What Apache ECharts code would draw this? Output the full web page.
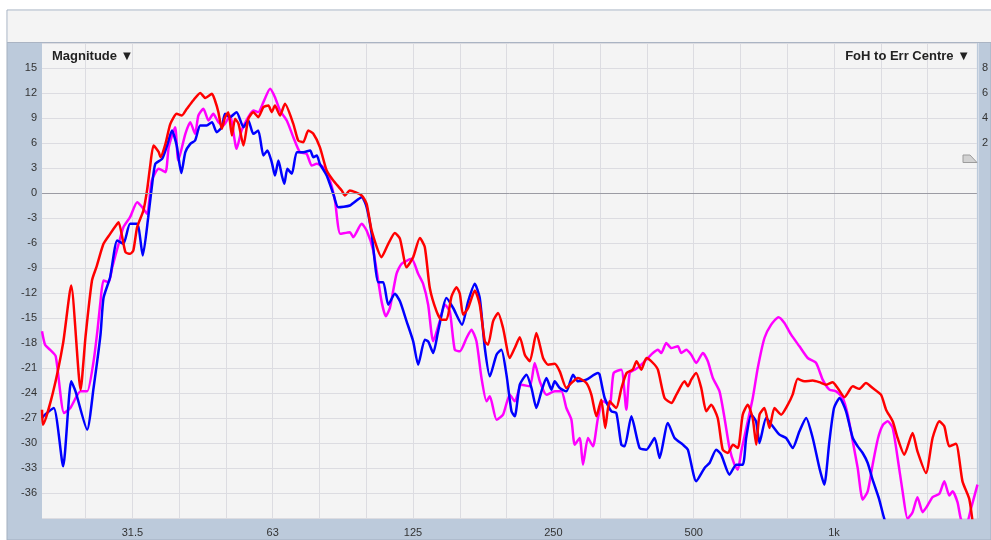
<!DOCTYPE html>
<html>
<head>
<meta charset="utf-8">
<script src="https://cdn.jsdelivr.net/npm/echarts@6/dist/echarts.min.js"></script>
<style>
  html, body { margin: 0; padding: 0; background: #fff; }
  #main { width: 991px; height: 540px; }
</style>
</head>
<body>
<div id="main"></div>
<script>
// frequency (Hz) and magnitude (dB), one pair of arrays per trace
var freqRed = [
  20.0, 20.1, 21.1, 22.2, 23.1, 24.2, 24.8, 25.6, 26.2, 27.1,
  28.0, 29.0, 29.2, 30.2, 30.9, 31.4, 32.0, 33.0, 33.6, 34.1,
  34.7, 35.6, 35.9, 36.8, 37.7, 38.9, 39.9, 40.9, 42.2, 43.7,
  44.8, 46.3, 47.0, 47.8, 48.6, 49.4, 50.2, 51.1, 51.9, 52.8,
  54.1, 55.4, 56.8, 58.2, 59.7, 61.2, 62.2, 63.2, 64.8, 66.4,
  69.2, 70.9, 72.7, 74.5, 76.4, 78.9, 81.6, 84.3, 87.9, 89.3,
  91.5, 97.0, 99.4, 101.9, 107.0, 110.6, 114.3, 117.2, 121.1, 125.1,
  129.3, 132.5, 135.8, 140.4, 143.9, 147.5, 151.2, 155.0, 157.5, 160.1,
  164.1, 169.6, 173.8, 178.2, 181.1, 185.6, 190.3, 195.0, 201.6, 206.6,
  211.8, 217.1, 222.5, 229.9, 237.6, 243.5, 251.7, 258.0, 266.6, 273.3,
  282.3, 294.3, 301.6, 309.2, 316.8, 323, 330, 341, 350, 359,
  370, 377, 386, 396, 409, 419, 433, 448, 459, 478,
  486, 494, 506, 519, 532, 545, 563, 577, 592, 607,
  622, 637, 653, 669, 681, 692, 709, 727, 745, 770,
  796, 815, 836, 864, 900, 930, 962, 993, 1018, 1053,
  1097, 1133, 1171, 1210, 1261, 1293, 1336, 1369, 1415, 1474,
  1510, 1575, 1627, 1682, 1724, 1767, 1826, 1886, 1950, 1982, 2008
];
var magRed = [
  -26.0, -27.8, -24.0, -18.0, -11.1, -23.6, -17.2, -10.5, -8.8, -6.1,
  -4.9, -3.7, -3.5, -7.1, -7.3, -6.9, -4.1, -2.1, 0.3, 3.1,
  5.7, 4.9, 4.3, 5.9, 8.3, 9.5, 9.3, 10.1, 11.1, 12.0,
  11.4, 11.9, 11.1, 9.7, 7.7, 9.1, 9.7, 6.9, 8.9, 8.3,
  5.7, 8.9, 9.7, 9.1, 10.3, 10.5, 9.7, 10.5, 9.3, 10.7,
  8.3, 6.3, 6.1, 7.5, 7.1, 5.5, 2.7, 1.5, 0.3, -0.3,
  0.3, -0.3, -1.3, -4.5, -7.7, -6.1, -4.8, -5.5, -8.9, -7.7,
  -5.4, -6.5, -11.4, -14.2, -15.2, -15.2, -12.4, -11.3, -12.1, -14.6,
  -13.8, -11.7, -13.4, -17.8, -18.2, -15.4, -14.4, -16.2, -19.8, -18.6,
  -17.3, -19.4, -20.2, -16.8, -19.8, -20.6, -20.5, -21.4, -23.4, -22.8,
  -22.2, -22.8, -24.2, -26.8, -24.8, -28.2, -25.0, -25.8, -23.4, -21.6,
  -21.2, -20.2, -21.2, -19.8, -20.4, -21.2, -24.6, -25.2, -24.2, -22.6,
  -23.2, -22.4, -21.6, -23.4, -26.2, -25.4, -27.0, -30.8, -31.2, -30.2,
  -30.6, -26.6, -25.4, -27.0, -30.2, -26.6, -25.8, -28.2, -25.8, -26.6,
  -25.4, -24.2, -22.3, -22.6, -22.5, -22.7, -23.0, -22.7, -23.4, -24.5,
  -23.2, -23.5, -22.8, -23.4, -24.2, -26.0, -27.4, -29.4, -31.4, -28.8,
  -31.0, -33.6, -29.4, -27.4, -28.0, -30.4, -30.1, -34.6, -36.7, -39.4, -42
];

var freqBlue = [
  20.0, 20.3, 21.2, 22.2, 23.1, 23.6, 25.0, 25.8, 26.7, 27.1,
  28.0, 29.0, 29.9, 30.9, 32.0, 32.9, 33.8, 34.4, 35.0, 36.2,
  37.1, 38.0, 38.9, 39.8, 40.6, 41.6, 42.6, 43.7, 45.1, 46.3,
  47.4, 48.6, 49.4, 50.6, 52.3, 54.1, 55.4, 56.8, 58.2, 59.7,
  60.9, 62.2, 63.2, 64.3, 65.4, 66.2, 67.2, 68.7, 70.4, 72.7,
  75.2, 76.4, 77.7, 78.9, 81.6, 84.3, 86.4, 91.5, 97.0, 99.4,
  101.9, 105.3, 107.9, 110.6, 114.3, 117.2, 121.1, 125.1, 128.2, 132.5,
  134.7, 138.1, 141.5, 147.5, 152.4, 159.2, 164.1, 169.6, 173.8, 178.2,
  182.7, 188.8, 193.4, 198.3, 203.3, 206.6, 211.8, 218.9, 224.4, 229.9,
  235.7, 241.6, 247.6, 251.7, 258.0, 266.6, 275.5, 282.3, 294.3, 311.6,
  314.2, 322.1, 332.9, 341.2, 349.7, 355.5, 367.5, 382.8, 395.6, 412.2,
  422.5, 440.1, 454.9, 474.0, 485.8, 506.3, 527.6, 540.7, 558.8, 572.7,
  596.7, 616.7, 637.2, 647.9, 664.1, 680.5, 691.9, 715.2, 738.8, 763.7,
  789.2, 815.4, 842.9, 871.3, 900.1, 930.3, 953.0, 977.3, 1000, 1028,
  1061, 1097, 1124, 1152, 1181, 1210, 1249, 1282, 1325
];
var magBlue = [
  -27.0, -26.6, -25.8, -32.8, -22.6, -23.8, -28.4, -23.4, -17.0, -12.6,
  -10.1, -5.7, -6.1, -3.7, -3.7, -7.5, -2.9, 0.7, 3.5, 4.1,
  5.7, 7.5, 5.7, 2.4, 4.9, 5.9, 6.3, 8.1, 8.1, 8.5,
  7.3, 7.9, 9.5, 9.1, 9.7, 7.9, 8.7, 7.1, 7.5, 4.5,
  5.1, 3.7, 2.1, 3.9, 2.1, 1.1, 2.9, 2.3, 4.9, 4.9,
  5.1, 4.3, 4.5, 3.5, 2.1, -0.1, -1.7, -1.5, -0.5, -1.7,
  -4.9, -10.7, -10.7, -13.4, -12.1, -13.0, -15.4, -17.8, -20.6, -17.6,
  -17.8, -19.2, -16.6, -12.6, -13.8, -15.8, -13.0, -10.9, -12.6, -18.6,
  -22.0, -19.4, -18.8, -21.8, -26.2, -26.8, -23.0, -21.8, -23.4, -25.8,
  -23.8, -22.2, -23.6, -22.6, -23.4, -23.8, -21.8, -22.6, -22.4, -21.6,
  -21.8, -24.6, -26.2, -26.4, -30.2, -30.4, -26.8, -30.6, -30.8, -29.4,
  -31.8, -27.6, -29.4, -30.2, -30.8, -34.6, -33.0, -32.4, -30.8, -31.4,
  -33.8, -32.6, -32.6, -29.4, -26.6, -27.4, -30.0, -27.0, -28.0, -29.0,
  -29.4, -30.6, -28.6, -27.0, -29.4, -33.0, -35.0, -29.8, -25.8, -24.6,
  -26.2, -29.4, -30.4, -31.2, -32.4, -34.4, -36.7, -39.1, -41
];

var freqMagenta = [
  20.0, 20.3, 20.8, 21.4, 22.3, 23.0, 24.2, 25.0, 25.8, 26.3,
  26.7, 27.1, 27.8, 28.3, 29.2, 29.9, 30.9, 32.0, 32.8, 33.6,
  34.4, 35.6, 36.8, 37.4, 38.6, 39.2, 40.6, 41.6, 42.6, 43.3,
  44.4, 45.5, 46.6, 47.8, 49.0, 50.6, 52.3, 53.6, 55.4, 56.8,
  58.2, 59.7, 61.7, 63.2, 64.8, 67.0, 69.2, 71.5, 73.9, 75.8,
  77.7, 80.2, 82.9, 85.0, 87.3, 91.5, 93.0, 97.0, 99.4, 102.7,
  107.0, 109.3, 111.5, 115.2, 118.1, 124.1, 128.2, 131.4, 134.7, 138.1,
  142.6, 146.3, 149.9, 153.6, 157.5, 162.8, 166.8, 171.0, 175.3, 179.7,
  182.7, 188.8, 195.0, 201.6, 206.6, 213.5, 222.5, 228.0, 233.8, 241.6,
  251.7, 260.1, 266.6, 273.3, 277.8, 284.7, 289.4, 296.6, 304.0, 311.6,
  319.4, 330.1, 336.7, 349.7, 358.5, 364.4, 373.6, 382.8, 395.6, 408.7,
  418.9, 426.1, 436.7, 447.6, 462.4, 470.2, 482.0, 494.0, 506.3, 523.1,
  536.2, 549.6, 568.0, 582.2, 596.7, 611.6, 621.7, 632.5, 653.1, 669.4,
  686.1, 709.2, 733.1, 759.9, 782.7, 809.0, 842.9, 878.1, 915.3, 945.5,
  977.3, 1010, 1044, 1070, 1097, 1124, 1152, 1181, 1210, 1243,
  1274, 1303, 1336, 1369, 1403, 1438, 1474, 1510, 1549, 1587,
  1627, 1682, 1724, 1767, 1796, 1840, 1871, 1918, 1966, 2031
];
var magMagenta = [
  -16.6, -18.2, -18.8, -19.6, -26.4, -25.8, -23.8, -23.8, -20.2, -16.5,
  -13.0, -10.5, -10.7, -8.9, -6.1, -4.1, -2.9, -1.1, -1.7, -2.5,
  1.5, 2.9, 2.5, 5.5, 7.9, 3.9, 7.1, 8.5, 7.1, 9.3,
  10.1, 8.7, 9.5, 8.5, 8.1, 9.3, 5.3, 7.5, 9.1, 9.9,
  9.7, 10.9, 12.5, 11.5, 9.9, 8.7, 6.7, 4.9, 4.7, 3.3,
  3.5, 3.1, 1.5, -0.9, -4.9, -4.7, -5.3, -3.7, -4.5, -6.9,
  -13.0, -14.8, -13.8, -9.7, -8.5, -7.9, -9.7, -10.9, -13.4, -17.8,
  -15.4, -13.4, -14.2, -18.8, -19.0, -17.4, -16.4, -17.8, -22.2, -25.0,
  -24.4, -27.2, -26.6, -24.2, -25.0, -23.0, -23.2, -20.4, -22.6, -24.2,
  -23.8, -23.8, -25.8, -27.2, -30.2, -29.4, -32.6, -29.4, -30.4, -27.0,
  -25.0, -25.4, -21.6, -21.2, -26.0, -21.6, -21.2, -20.8, -20.0, -19.2,
  -18.8, -19.2, -18.0, -18.6, -18.4, -19.2, -18.8, -19.4, -20.4, -19.2,
  -20.2, -22.2, -23.8, -27.0, -30.6, -32.6, -33.2, -31.0, -27.4, -24.6,
  -21.0, -17.4, -15.8, -14.9, -15.6, -17.0, -18.4, -19.8, -20.4, -22.4,
  -23.6, -23.8, -24.6, -26.6, -29.8, -33.0, -36.8, -35.8, -32.6, -29.4,
  -27.8, -27.4, -28.2, -31.8, -35.8, -39.1, -38.3, -36.5, -38.3, -37.5,
  -36.5, -36.1, -34.6, -36.3, -35.8, -37.1, -39.1, -40.0, -37.9, -35.0
];

// axis labels
var xTickHz = [31.25, 62.5, 125, 250, 500, 1000];
var xTickLabels = ['31.5', '63', '125', '250', '500', '1k'];
var rightTickLabels = [2, 4, 6, 8];

function toPoints(freqs, mags) {
  return freqs.map(function (f, i) { return [Math.log2(f), mags[i]]; });
}

// third-octave grid lines around 1 kHz (log2 units)
var thirdLines = [];
for (var k = -16; k <= 2; k++) thirdLines.push(Math.log2(1000) + k / 3);
var labelPos = xTickHz.map(function (f) { return Math.log2(f); });

var chart = echarts.init(document.getElementById('main'));
var labelFont = '"Liberation Sans", Arial, sans-serif';

var option = {
  backgroundColor: '#ffffff',
  animation: false,
  grid: {
    left: 42, right: 13, top: 43, bottom: 22,
    show: true, backgroundColor: '#f4f4f4', borderWidth: 0
  },
  graphic: [
    { type: 'rect', z: -10, shape: { x: 7, y: 10, width: 984, height: 530 },
      style: { fill: '#bccadb', stroke: '#a3afbf', lineWidth: 1 } },
    { type: 'rect', z: -9, shape: { x: 7.5, y: 10.5, width: 984, height: 32 },
      style: { fill: '#f4f4f4' } },
    { type: 'line', z: -8, shape: { x1: 7, y1: 42.5, x2: 991, y2: 42.5 },
      style: { stroke: '#aab4c3', lineWidth: 1 } },
    { type: 'line', z: -8, shape: { x1: 978.5, y1: 43, x2: 978.5, y2: 518 },
      style: { stroke: '#d6dde7', lineWidth: 1 } },
    { type: 'text', z: 10, style: { x: 52, y: 56, text: 'Magnitude \u25BC',
      font: 'bold 13px ' + labelFont, fill: '#222', verticalAlign: 'middle' } },
    { type: 'text', z: 10, style: { x: 970, y: 56, text: 'FoH to Err Centre \u25BC',
      font: 'bold 13px ' + labelFont, fill: '#222', align: 'right', verticalAlign: 'middle' } },
    { type: 'polygon', z: 10, shape: { points: [[963, 155], [970, 155], [977, 162.5], [963, 162.5]] },
      style: { fill: '#d2d2d2', stroke: '#9c9c9c', lineWidth: 1 } }
  ],
  xAxis: {
    type: 'value',
    min: Math.log2(20),
    max: Math.log2(2025),
    axisLine: { show: false },
    axisTick: { show: false, customValues: thirdLines },
    splitLine: { show: true, lineStyle: { color: '#dcdce1', width: 1 } },
    axisLabel: {
      customValues: labelPos,
      color: '#333', fontSize: 11, fontFamily: labelFont, margin: 9,
      formatter: function (v) {
        for (var i = 0; i < labelPos.length; i++) {
          if (Math.abs(labelPos[i] - v) < 1e-6) return xTickLabels[i];
        }
        return '';
      }
    }
  },
  yAxis: [{
    type: 'value',
    min: -39, max: 18, interval: 3,
    axisLine: { show: false },
    axisTick: { show: false },
    splitLine: { show: true, lineStyle: { color: '#dcdce1', width: 1 } },
    axisLabel: {
      color: '#333', fontSize: 11, fontFamily: labelFont, margin: 5,
      formatter: function (v) { return (v <= -39 || v >= 18) ? '' : String(v); }
    }
  }, {
    type: 'value',
    position: 'right',
    min: -28, max: 10, interval: 2,
    axisLine: { show: false },
    axisTick: { show: false },
    splitLine: { show: false },
    axisLabel: {
      color: '#333', fontSize: 11, fontFamily: labelFont, margin: 5,
      formatter: function (v) { return rightTickLabels.indexOf(v) >= 0 ? String(v) : ''; }
    }
  }],
  series: [{
    name: 'magenta', type: 'line', showSymbol: false, smooth: 0.2,
    lineStyle: { color: '#ff00ff', width: 2.5 },
    data: toPoints(freqMagenta, magMagenta),
    markLine: {
      silent: true, symbol: 'none', label: { show: false },
      lineStyle: { color: '#9b9ba3', width: 1, type: 'solid' },
      data: [{ yAxis: 0 }]
    }
  }, {
    name: 'blue', type: 'line', showSymbol: false, smooth: 0.2,
    lineStyle: { color: '#0000ff', width: 2.5 },
    data: toPoints(freqBlue, magBlue)
  }, {
    name: 'red', type: 'line', showSymbol: false, smooth: 0.2,
    lineStyle: { color: '#ff0000', width: 2.5 },
    data: toPoints(freqRed, magRed)
  }]
};

chart.setOption(option);
</script>
</body>
</html>
